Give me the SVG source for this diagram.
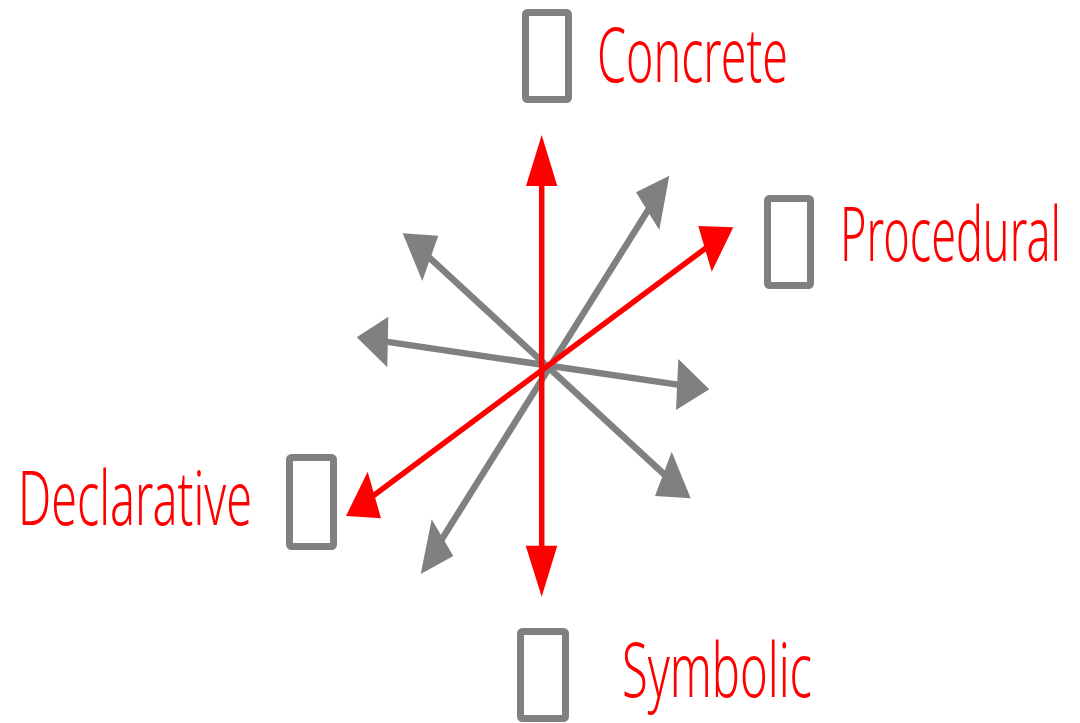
<svg xmlns="http://www.w3.org/2000/svg" width="1080" height="723" viewBox="0 0 1080 723">
  <style>
    .label { font-family: "Noto Sans", "Open Sans", "Liberation Sans", sans-serif; font-size: 76px; font-weight: 300; fill: #FF0000; }
    .icon { fill: #FFFFFF; stroke: #808080; stroke-width: 7; }
    .red-line { stroke: #FF0000; stroke-width: 5.5; fill: none; }
    .gray-line { stroke: #808080; stroke-width: 6.5; fill: none; }
    .red-head { fill: #FF0000; }
    .gray-head { fill: #808080; }
  </style>
  <rect width="1080" height="723" fill="#FFFFFF"/>

  <!-- axes and arrowheads -->
  <g id="connectors">
    <!-- gray secondary axes -->
    <line class="gray-line" x1="377.4" y1="340.4" x2="687.9" y2="386.1"/>
    <line class="gray-line" x1="654.9" y1="199.3" x2="435.2" y2="549.8"/>
    <line class="gray-line" x1="421.1" y1="250" x2="672.5" y2="482"/>
    <polygon class="gray-head" points="402.7,233.3 438.3,235.7 422.3,281"/>
    <polygon class="gray-head" points="356.7,337.3 388.3,316.7 387.3,367.3"/>
    <polygon class="gray-head" points="709.3,389.3 678.3,359 676,410"/>
    <polygon class="gray-head" points="671.7,451.7 655,496 690.7,498.3"/>
    <polygon class="gray-head" points="431.7,519.3 453.3,556 420.7,574"/>
    <polygon class="gray-head" points="669.3,175.7 636,192.3 659.3,230"/>

    <!-- red main axes -->
    <line class="red-line" x1="541.7" y1="160" x2="541.7" y2="570"/>
    <line class="red-line" x1="364.9" y1="502" x2="714.4" y2="241.7"/>
    <polygon class="red-head" points="541.7,135 526,186 557.3,186"/>
    <polygon class="red-head" points="541.7,596.7 525.7,545.7 557.3,545.7"/>
    <polygon class="red-head" points="733.3,227.3 698.3,226 711.7,271.7"/>
    <polygon class="red-head" points="346,516 367.7,471.7 381,518.3"/>
  </g>

  <g id="concrete">
    <rect class="icon" x="525.5" y="12.5" width="43" height="87" rx="2"/>
    <text class="label" x="597" y="82" textLength="191" lengthAdjust="spacingAndGlyphs">Concrete</text>
  </g>

  <g id="procedural">
    <rect class="icon" x="767.5" y="198.5" width="43" height="87" rx="2"/>
    <text class="label" x="840" y="261" textLength="221" lengthAdjust="spacingAndGlyphs">Procedural</text>
  </g>

  <g id="declarative">
    <rect class="icon" x="289.5" y="457.5" width="44" height="89" rx="2"/>
    <text class="label" x="18" y="525" textLength="234" lengthAdjust="spacingAndGlyphs">Declarative</text>
  </g>

  <g id="symbolic">
    <rect class="icon" x="520.5" y="631.5" width="45" height="87" rx="2"/>
    <text class="label" x="622" y="697" textLength="190" lengthAdjust="spacingAndGlyphs">Symbolic</text>
  </g>
</svg>
